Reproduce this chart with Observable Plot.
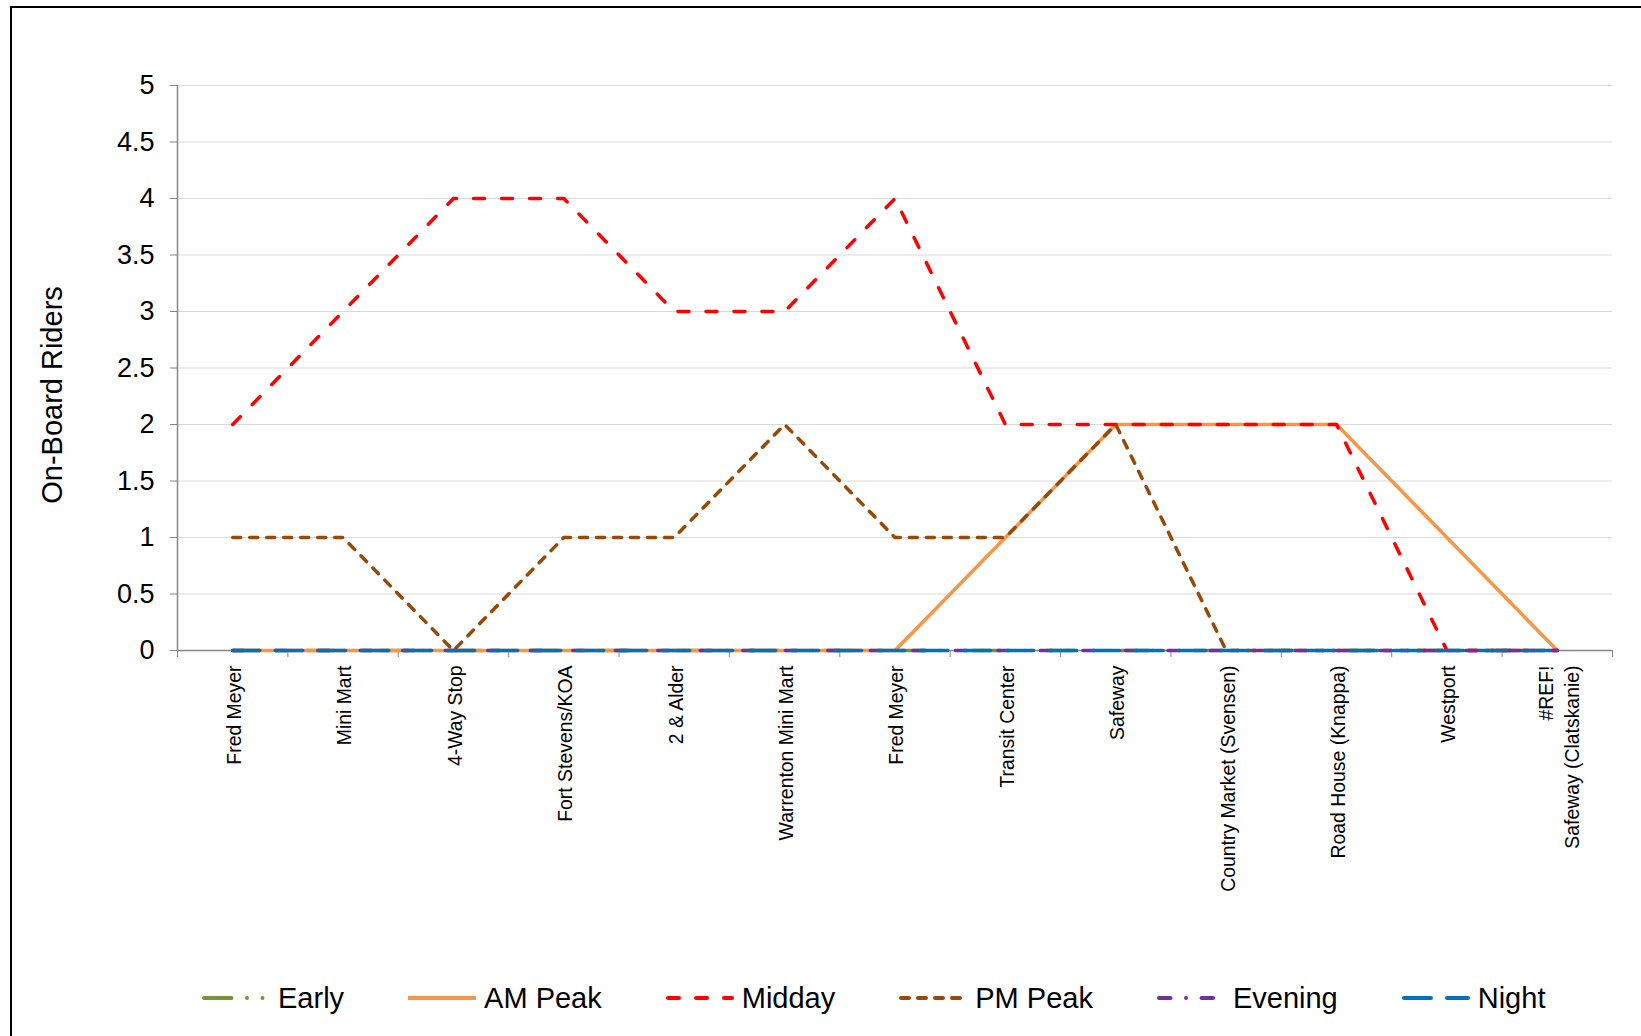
<!DOCTYPE html>
<html>
<head>
<meta charset="utf-8">
<script src="https://cdn.jsdelivr.net/npm/d3@7"></script>
<script src="https://cdn.jsdelivr.net/npm/@observablehq/plot@0.6"></script>
<style>
  html, body { margin: 0; padding: 0; background: #fff; overflow: hidden; }
  body { width: 1641px; height: 1036px; position: relative; font-family: "Liberation Sans", Arial, sans-serif; }
  #frame { position: absolute; left: 10px; top: 6px; width: 1700px; height: 1100px; border: 2px solid #000; pointer-events: none; box-sizing: border-box; z-index: 5; }
  #legend { position: absolute; left: 0; top: 960px; width: 1641px; height: 76px; display: flex; align-items: center; gap: 64px; padding-left: 202px; box-sizing: border-box; font-size: 29px; color: #000; }
  .item { display: flex; align-items: center; gap: 8px; white-space: nowrap; }
  .item svg { display: block; }
</style>
</head>
<body>
<div id="chart"></div>
<div id="legend"></div>
<div id="frame"></div>
<script>
// ---- data ----
const stops = [
  "Fred Meyer", "Mini Mart", "4-Way Stop", "Fort Stevens/KOA", "2 & Alder",
  "Warrenton Mini Mart", "Fred Meyer", "Transit Center", "Safeway",
  "Country Market (Svensen)", "Road House (Knappa)", "Westport",
  "#REF!\nSafeway (Clatskanie)"
];
const seriesNames = ["Early", "AM Peak", "Midday", "PM Peak", "Evening", "Night"];
const early   = [0, 0, 0, 0, 0, 0, 0, 0, 0, 0, 0, 0, 0];
const amPeak  = [0, 0, 0, 0, 0, 0, 0, 1, 2, 2, 2, 1, 0];
const midday  = [2, 3, 4, 4, 3, 3, 4, 2, 2, 2, 2, 0, 0];
const pmPeak  = [1, 1, 0, 1, 1, 2, 1, 1, 2, 0, 0, 0, 0];
const evening = [0, 0, 0, 0, 0, 0, 0, 0, 0, 0, 0, 0, 0];
const night   = [0, 0, 0, 0, 0, 0, 0, 0, 0, 0, 0, 0, 0];
const yTicks = [0, 0.5, 1, 1.5, 2, 2.5, 3, 3.5, 4, 4.5, 5];

// ---- styles ----
const styles = {
  "Early":   {color: "#77933C", dash: "27.5,15.5,0.01,15.5,0.01,15.5"},
  "AM Peak": {color: "#F79646", dash: null},
  "Midday":  {color: "#FF0000", dash: "11,17"},
  "PM Peak": {color: "#984807", dash: "8,9"},
  "Evening": {color: "#7030A0", dash: "11.5,15.5,0.01,15.5"},
  "Night":   {color: "#0070C0", dash: "27,16"}
};
const values = [early, amPeak, midday, pmPeak, evening, night];
const rows = seriesNames.map((name, s) => values[s].map((v, i) => ({series: name, i, v})));

const axisGray = "#868686";
const lineMarks = rows.map((data, s) => {
  const st = styles[seriesNames[s]];
  return Plot.line(data, {
    x: "i", y: "v", stroke: st.color, strokeWidth: 3.5,
    strokeDasharray: st.dash || undefined,
    strokeLinecap: st.dash ? "round" : "butt", strokeLinejoin: "round"
  });
});

const chart = Plot.plot({
  width: 1641,
  height: 960,
  marginLeft: 177,
  marginRight: 29,
  marginTop: 85,
  marginBottom: 310,
  style: {fontFamily: "'Liberation Sans', Arial, sans-serif", background: "#fff", overflow: "visible"},
  x: {domain: [-0.5, stops.length - 0.5], axis: null},
  y: {domain: [0, 5], axis: null},
  marks: [
    Plot.gridY(yTicks, {stroke: "#d9d9d9", strokeOpacity: 1, strokeWidth: 1}),
    Plot.ruleX([-0.5], {stroke: axisGray, strokeWidth: 1.5}),
    Plot.axisY(yTicks, {tickSize: 7, tickPadding: 16, fontSize: 27, stroke: axisGray, fill: "#000", label: null, tickFormat: d => String(d)}),
    Plot.axisX(d3.range(-0.5, stops.length, 1), {tickSize: 7, stroke: axisGray, tickFormat: () => "", label: null}),
    Plot.ruleY([0], {stroke: axisGray, strokeWidth: 1.5}),
    ...lineMarks,
    Plot.text(stops, {
      x: (d, i) => i, text: d => d, frameAnchor: "bottom", rotate: -90,
      textAnchor: "end", lineAnchor: "middle", lineHeight: 1.35, dy: 15, fontSize: 19.4, fill: "#000"
    }),
    Plot.text(["On-Board Riders"], {
      text: d => d, frameAnchor: "left", textAnchor: "middle", lineAnchor: "middle",
      dx: -125, dy: 27, rotate: -90, fontSize: 29, fill: "#000"
    })
  ]
});
document.getElementById("chart").appendChild(chart);

// ---- legend ----
const legend = document.getElementById("legend");
seriesNames.forEach(name => {
  const st = styles[name];
  const item = document.createElement("div");
  item.className = "item";
  const ns = "http://www.w3.org/2000/svg";
  const svg = document.createElementNS(ns, "svg");
  svg.setAttribute("width", 68);
  svg.setAttribute("height", 12);
  const ln = document.createElementNS(ns, "line");
  ln.setAttribute("x1", st.dash ? 2 : 0);
  ln.setAttribute("x2", st.dash ? 66 : 68);
  ln.setAttribute("y1", 6);
  ln.setAttribute("y2", 6);
  ln.setAttribute("stroke", st.color);
  ln.setAttribute("stroke-width", 4);
  if (st.dash) { ln.setAttribute("stroke-dasharray", st.dash); ln.setAttribute("stroke-linecap", "round"); }
  svg.appendChild(ln);
  const label = document.createElement("span");
  label.textContent = name;
  item.appendChild(svg);
  item.appendChild(label);
  legend.appendChild(item);
});
</script>
</body>
</html>
